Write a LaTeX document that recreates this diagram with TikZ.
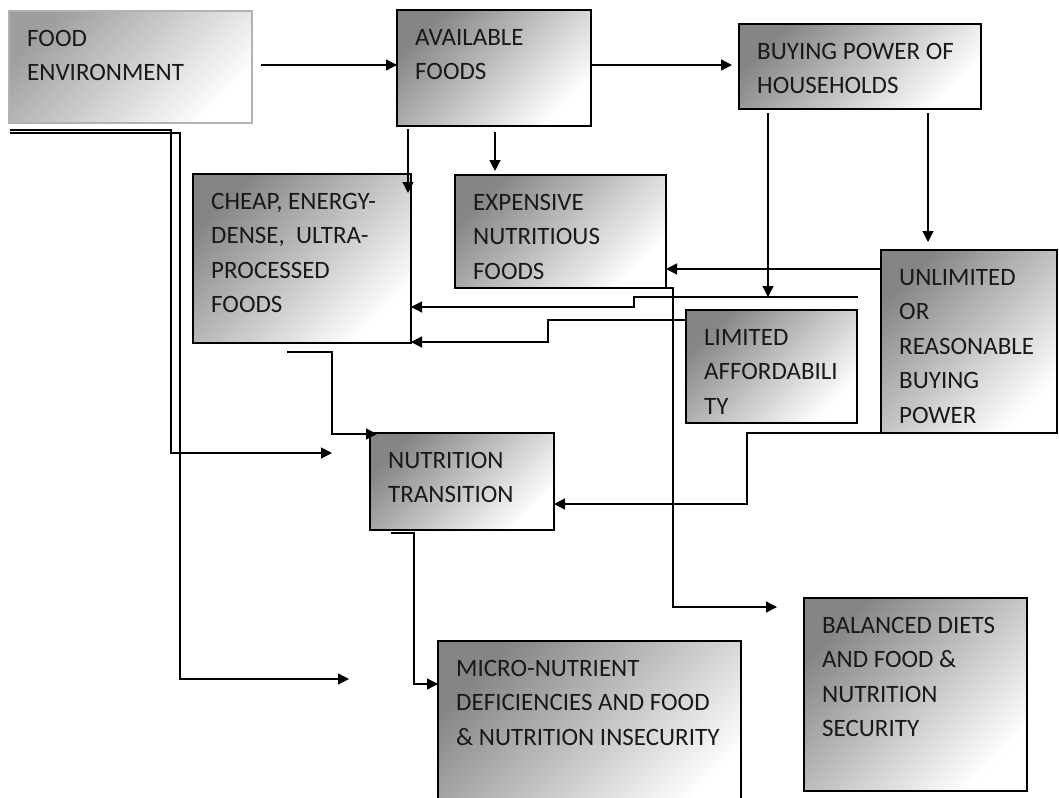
\documentclass[tikz,border=0pt]{standalone}
\usepackage{fontspec}
\newfontfamily\boxfont{Carlito}
\usetikzlibrary{arrows.meta}

\begin{document}
\begin{tikzpicture}
[x=1pt,y=-1pt,
box/.style={draw=black,line width=1.2pt,shading=axis,top color=white,bottom color=black!48,shading angle=225,inner sep=0pt,outer sep=0pt,anchor=north west},
txt/.style={label={[anchor=north west,inner sep=0pt,xshift=18pt,yshift=-19pt,align=left,text=black!90,font=\boxfont\fontsize{25}{34.5}\selectfont]north west:{#1}}},
arr/.style={line width=1.3pt,-{Triangle[length=11pt,width=11pt]}}]
\useasboundingbox (0,0) rectangle (1059,797);
\clip (0,0) rectangle (1059,797);

\node[box,draw=black!30,line width=1.8pt,bottom color=black!38,shading angle=225,minimum width=243pt,minimum height=112pt,txt={FOOD\\ENVIRONMENT}] (food) at (9,11) {};
\node[box,minimum width=194pt,minimum height=116pt,txt={AVAILABLE\\FOODS}] (avail) at (397,10) {};
\node[box,minimum width=242pt,minimum height=85pt,txt={BUYING POWER OF\\HOUSEHOLDS}] (buying) at (739,24) {};
\node[box,minimum width=218pt,minimum height=169pt,txt={CHEAP, ENERGY-\\DENSE,~ ULTRA-\\PROCESSED\\FOODS}] (cheap) at (193,174) {};
\node[box,minimum width=211pt,minimum height=113pt,txt={EXPENSIVE\\NUTRITIOUS\\FOODS}] (expens) at (455,175) {};
\node[box,minimum width=176pt,minimum height=183pt,txt={UNLIMITED\\OR\\REASONABLE\\BUYING\\POWER}] (unlim) at (881,250) {};
\node[box,minimum width=171pt,minimum height=113pt,txt={LIMITED\\AFFORDABILI\\TY}] (limited) at (686,310) {};
\node[box,minimum width=184pt,minimum height=97pt,txt={NUTRITION\\TRANSITION}] (nutri) at (370,433) {};
\node[box,minimum width=303pt,minimum height=180pt,txt={MICRO-NUTRIENT\\DEFICIENCIES AND FOOD\\\& NUTRITION INSECURITY}] (micro) at (438,641) {};
\node[box,minimum width=223pt,minimum height=193pt,txt={BALANCED DIETS\\AND FOOD \&\\NUTRITION\\SECURITY}] (balanced) at (804,598) {};

\coordinate (fe) at (261,65);
\coordinate (hr) at (858,297);
\coordinate (bl) at ([xshift=29pt,yshift=-4pt]buying.south west);
\coordinate (br) at ([xshift=189pt,yshift=-4pt]buying.south west);

\draw[arr] (fe) -- (fe -| avail.west);
\draw[arr] (avail.east |- fe) -- ([xshift=-7pt]buying.west |- fe);
\draw[arr] ([xshift=11pt,yshift=-3pt]avail.south west) -- ([xshift=-3pt,yshift=-19pt]cheap.north east);
\draw[arr] ([xshift=98pt,yshift=-6pt]avail.south west) -- ([xshift=40pt,yshift=4pt]expens.north west);
\draw[arr] (bl) -- (bl |- hr);
\draw[arr] (br) -- ([yshift=8pt]br |- unlim.north);
\draw[arr] ([yshift=-19pt]unlim.north west) -- ([yshift=-19pt]unlim.north west -| expens.east);
\draw[arr] (hr) -| (634,307) -- (cheap.east |- 0,307);
\draw[arr] ([yshift=-10pt]limited.north west) -| (548,342) -- (cheap.east |- 0,342);
\draw[arr] ([xshift=117pt]expens.south west) -| (673,607) -- ([xshift=-27pt,yshift=-9pt]balanced.north west);
\draw[arr] ([xshift=94pt,yshift=-9pt]cheap.south west) -| (332,434) -- ([xshift=7pt,yshift=-1pt]nutri.north west);
\draw[arr] ([xshift=59pt]unlim.south west) -| (747,504) -- (nutri.east |- 0,504);
\draw[arr] ([xshift=21pt,yshift=-3pt]nutri.south west) -| (414,684) -- (micro.west |- 0,684);
\draw[arr] ([xshift=1pt,yshift=-7pt]food.south west) -| (171,453) -- (332,453);
\draw[arr] ([xshift=1pt,yshift=-10pt]food.south west) -| (180,679) -- (349,679);
\end{tikzpicture}
\end{document}
